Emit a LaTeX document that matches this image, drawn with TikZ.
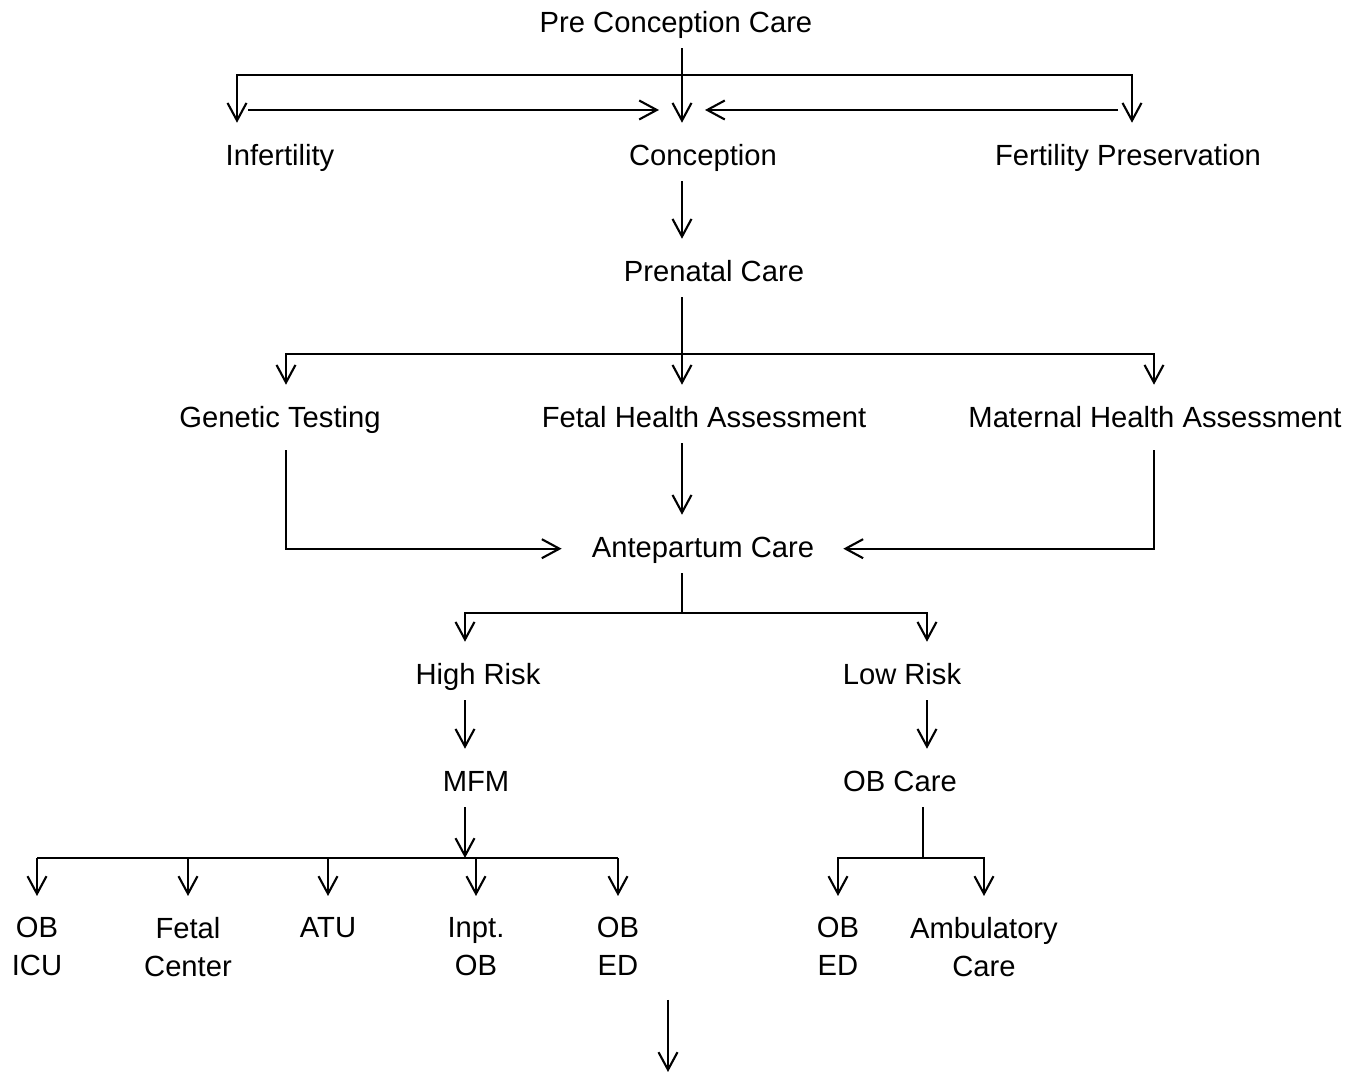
\documentclass[tikz,border=0pt]{standalone}
\usepackage{fontspec}
\setmainfont{Liberation Sans}
\usetikzlibrary{arrows.meta}
\tikzstyle{lbl} = [inner sep=0pt, text height=12pt, text depth=4pt, anchor=base,
font=\fontsize{8.3}{10.8}\selectfont]
\tikzstyle{leaf} = [inner xsep=0pt, inner ysep=5.8pt, anchor=north, align=center,
font=\fontsize{8.3}{10.8}\selectfont]
\tikzset{>={Straight Barb[length=5pt,width=5.4pt]}}
\begin{document}
\begin{tikzpicture}[x=0.01cm, y=-0.01cm, line width=0.6pt]
                \useasboundingbox (0,0) rectangle (1357,1074);

                \node[lbl] (pre) at (676,33) {Pre Conception Care} ; %
                \node[lbl] (infert) at (280,166) {Infertility} ; %
                \node[lbl] (conc) at (703,166) {Conception} ; %
                \node[lbl] (fert) at (1128,166) {Fertility Preservation} ; %
                \node[lbl] (prenat) at (714,282) {Prenatal Care} ; %

                \node[lbl] (genet) at (280,428) {Genetic Testing} ; %
                \node[lbl] (fetal) at (704,428) {Fetal Health Assessment} ; %
                \node[lbl] (matern) at (1155,428) {Maternal Health Assessment} ; %
                \node[lbl] (ante) at (703,558) {Antepartum Care} ; %

                \node[lbl] (high) at (478,685) {High Risk} ; %
                \node[lbl] (low) at (902,685) {Low Risk} ; %
                \node[lbl] (mfm) at (476,792) {MFM} ; %
                \node[lbl] (obcare) at (900,792) {OB Care} ; %

                \node[leaf] (obicu) at (37,896) {OB\\ICU} ; %
                \node[leaf] (fetc) at (188,896) {Fetal\\Center} ; %
                \node[leaf] (atu) at (328,896) {ATU} ; %
                \node[leaf] (inpt) at (476,896) {Inpt.\\OB} ; %
                \node[leaf] (obed) at (618,896) {OB\\ED} ; %
                \node[leaf] (obed2) at (838,896) {OB\\ED} ; %
                \node[leaf] (amb) at (984,896) {Ambulatory\\Care} ; %

                % junctions
                \coordinate (t1) at (682,75) ;
                \coordinate (lI) at (237,75) ;
                \coordinate (rF) at (1132,75) ;
                \coordinate (xa) at (248,110) ;
                \coordinate (xb) at (659,110) ;
                \coordinate (xc) at (1118,110) ;
                \coordinate (xd) at (705,110) ;
                \coordinate (t2) at (682,354) ;
                \coordinate (lG) at (286,354) ;
                \coordinate (rM) at (1154,354) ;
                \coordinate (t3) at (682,613) ;
                \coordinate (lH) at (465,613) ;
                \coordinate (rL) at (927,613) ;
                \coordinate (mbus) at (465,858) ;
                \coordinate (obus) at (923,858) ;
                \coordinate (b1) at (668,1000) ;
                \coordinate (b2) at (668,1072) ;

                \draw[->] (t1 |- pre.south) -- (t1 |- conc.north);
                \draw[<->] (lI |- infert.north) -- (lI) -- (rF) -- (rF |- fert.north);
                \draw[->] (xa) -- (xb);
                \draw[->] (xc) -- (xd);
                \draw[->] (t1 |- conc.south) -- (t1 |- prenat.north);

                \draw[->] (t2 |- prenat.south) -- (t2 |- fetal.north);
                \draw[<->] (lG |- genet.north) -- (lG) -- (rM) -- (rM |- matern.north);
                \draw[->] (t2 |- fetal.south) -- (t2 |- ante.north);
                \draw[->, shorten <=2pt, shorten >=8.3pt] (lG |- genet.south) |- (ante.mid west);
                \draw[->, shorten <=2pt, shorten >=8pt] (rM |- matern.south) |- (ante.mid east);

                \draw (t3 |- ante.south) -- (t3);
                \draw[<->] (lH |- high.north) -- (lH) -- (rL) -- (rL |- low.north);
                \draw[->] (lH |- high.south) -- (lH |- mfm.north);
                \draw[->] (rL |- low.south) -- (rL |- obcare.north);

                \draw[->] (mbus |- mfm.south) -- (mbus);
                \draw (obicu.north |- mbus) -- (obed.north |- mbus);
                \foreach \n in {obicu,fetc,atu,inpt,obed}
                    \draw[->] (\n.north |- mbus) -- (\n.north);
                \draw (obus |- obcare.south) -- (obus);
                \draw[<->] (obed2.north) -- (obed2.north |- obus) -- (amb.north |- obus) -- (amb.north);

                \draw[->] (b1) -- (b2);
\end{tikzpicture}
\end{document}
